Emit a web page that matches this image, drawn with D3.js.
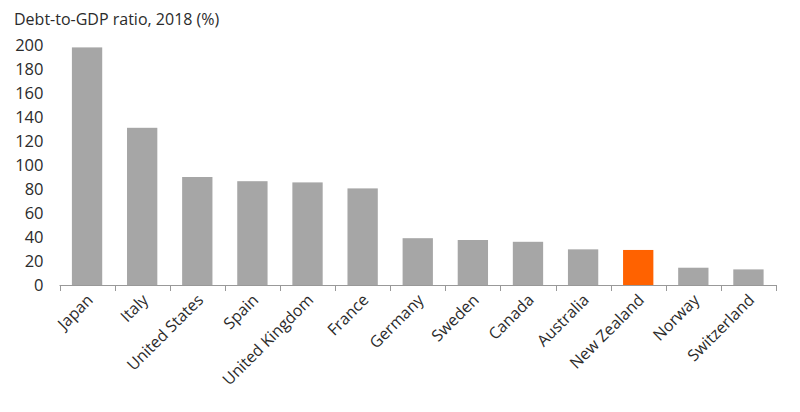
<!DOCTYPE html>
<html><head><meta charset="utf-8">
<script src="https://cdn.jsdelivr.net/npm/d3@7"></script>
<style>
body{margin:0;background:#fff;}
text{font-family:"Open Sans",sans-serif;fill:#2b2b2b;}
</style></head>
<body>
<svg id="c" width="800" height="412"></svg>
<script>
const categories = ["Japan","Italy","United States","Spain","United Kingdom","France","Germany","Sweden","Canada","Australia","New Zealand","Norway","Switzerland"];
const values = [198, 131, 90, 86.5, 85.5, 80.5, 39, 37.5, 36, 29.7, 29.2, 14.4, 13];
const highlight = ["New Zealand"];
const yTicks = [0,20,40,60,80,100,120,140,160,180,200];
const title = "Debt-to-GDP ratio, 2018 (%)";

const svg = d3.select("#c");
const m = {left:59.5, right:24, top:45, bottom:127};
const W = 800, H = 412;
const x = d3.scaleBand().domain(categories).range([m.left, W - m.right]).paddingInner(0.45).paddingOuter(0.225);
const y = d3.scaleLinear().domain([0,200]).range([H - m.bottom, m.top]);

svg.append("text").attr("x",14).attr("y",25).attr("font-size",16).text(title);

svg.selectAll("rect.bar").data(categories).join("rect")
  .attr("class","bar")
  .attr("x", d => x(d))
  .attr("width", x.bandwidth())
  .attr("y", (d,i) => y(values[i]))
  .attr("height", (d,i) => y(0) - y(values[i]))
  .attr("fill", d => highlight.includes(d) ? "#ff6200" : "#a6a6a6");

const ya = svg.append("g").attr("transform",`translate(${m.left},0)`)
  .call(d3.axisLeft(y).tickValues(yTicks).tickSize(0).tickPadding(16));
ya.select(".domain").remove();
ya.selectAll("text").attr("font-size",16.5).attr("font-family","Open Sans").attr("fill","#2b2b2b");

const y0 = y(0);
const g = svg.append("g");
g.append("line").attr("x1",x.range()[0]).attr("x2",x.range()[1]).attr("y1",y0+0.5).attr("y2",y0+0.5).attr("stroke","#999").attr("stroke-width",1);
const step = x.step();
const bounds = d3.range(categories.length+1).map(i => x.range()[0] + i*step);
g.selectAll("line.tk").data(bounds).join("line").attr("class","tk")
  .attr("x1",d=>Math.round(d)+0.5).attr("x2",d=>Math.round(d)+0.5)
  .attr("y1",y0).attr("y2",y0+6).attr("stroke","#999");

g.selectAll("text.xl").data(categories).join("text").attr("class","xl")
  .attr("font-size",16)
  .attr("text-anchor","end")
  .attr("transform", d => `translate(${x(d)+x.bandwidth()/2+7},${y0+16}) rotate(-45)`)
  .text(d => d);
</script>
</body></html>
